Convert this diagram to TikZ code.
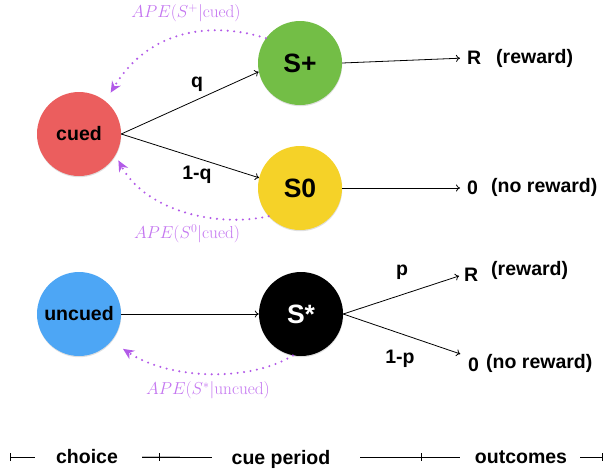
\documentclass[tikz,border=0pt]{standalone}
\usepackage[no-math]{fontspec}
\setmainfont{Liberation Sans}
\usetikzlibrary{arrows.meta,shadows}
\definecolor{cuedred}{RGB}{235,94,94}
\definecolor{spgreen}{RGB}{115,190,70}
\definecolor{szyellow}{RGB}{245,210,40}
\definecolor{uncblue}{RGB}{77,166,245}
\definecolor{apepurple}{RGB}{178,90,232}
\definecolor{apetext}{RGB}{196,118,240}
\begin{document}
\begin{tikzpicture}[x=1pt,y=-1pt,
  state/.style={circle, minimum size=84pt, inner sep=0pt,
    font=\fontsize{19.5}{22}\selectfont\bfseries,
    drop shadow={shadow xshift=0.3pt, shadow yshift=-1.2pt, opacity=0.25}},
  bigstate/.style={state, font=\fontsize{26.5}{30}\selectfont\bfseries},
  lbl/.style={font=\fontsize{19.5}{22}\selectfont\bfseries, inner sep=2pt},
  arr/.style={-{To[length=4pt,width=7pt]}, line width=0.8pt},
  ape/.style={apepurple, line width=2.3pt, line cap=round,
    dash pattern=on 0pt off 6.5pt, -{Stealth[length=11pt,width=10pt]}},
  apelbl/.style={apetext, font=\fontsize{16.5}{18}\selectfont},
  tl/.style={line width=0.9pt},
]
\useasboundingbox (0,0) rectangle (607,472);

% states
\node[state, fill=cuedred] (cued) at (79,134) {cued};
\node[bigstate, fill=spgreen] (Sp) at (300,63) {S+};
\node[bigstate, fill=szyellow] (S0) at (300,188) {S0};
\node[state, fill=uncblue] (unc) at (79,314) {uncued};
\node[bigstate, fill=black, text=white] (Ss) at (301,314) {S*};

% outcomes
\node[lbl, anchor=west] (R1) at (465,58) {R};
\node[lbl, anchor=west] (R1t) at (494,58) {(reward)};
\node[lbl, anchor=west] (Z1) at (465,188) {0};
\node[lbl, anchor=west] (Z1t) at (489,187) {(no reward)};
\node[lbl, anchor=west] (R2) at (462,275) {R};
\node[lbl, anchor=west] (R2t) at (489,270) {(reward)};
\node[lbl, anchor=west] (Z2) at (466,365) {0};
\node[lbl, anchor=west] (Z2t) at (484,363) {(no reward)};

% probabilities
\node[lbl] (q) at (197,84) {q};
\node[lbl] (q1) at (197,175) {1-q};
\node[lbl] (p) at (402,272) {p};
\node[lbl] (p1) at (400,359) {1-p};

% transitions
\draw[arr] (cued.east) -- (Sp.192);
\draw[arr] (cued.east) -- (S0.166);
\draw[arr, shorten >=5pt] (Sp.east) -- (R1.west);
\draw[arr, shorten >=5pt] (S0.east) -- (Z1.west);
\draw[arr] (unc.east) -- (Ss.west);
\draw[arr, shorten >=3pt] (Ss.east) -- (R2.west);
\draw[arr, shorten >=6pt] (Ss.east) -- (Z2.north west);

% APE arrows
\draw[ape, shorten >=10pt] (Sp.144) .. controls (215,22) and (150,27) .. (cued.51);
\draw[ape, shorten >=6pt] (S0.222) .. controls (215,228) and (145,210) .. (cued.330);
\draw[ape, shorten >=14pt] (Ss.259) .. controls (250,382) and (170,380) .. (unc.320);
\node[apelbl] (l1) at (186,13) {$APE(S^+|\mathrm{cued})$};
\node[apelbl] (l2) at (187,234) {$APE(S^0|\mathrm{cued})$};
\node[apelbl] (l3) at (208,390) {$APE(S^*|\mathrm{uncued})$};

% timeline
\node[lbl] (tc) at (87,457) {choice};
\node[lbl] (tp) at (281,459.5) {cue period};
\node[lbl] (to) at (521,457.5) {outcomes};
\draw[tl, {Bar[width=8pt]}-] (10,457) -- (35,457);
\draw[gray!50, line width=0.8pt] (142,456.2) -- (180,456.2);
\draw[tl] (142,457) -- (212,457);
\draw[tl] (159,453) -- (159,461);
\draw[tl] (360,457) -- (460,457);
\draw[tl] (421,453) -- (421,461);
\draw[tl, -{Bar[width=8pt]}] (580,457) -- (603,457);
\end{tikzpicture}
\end{document}
